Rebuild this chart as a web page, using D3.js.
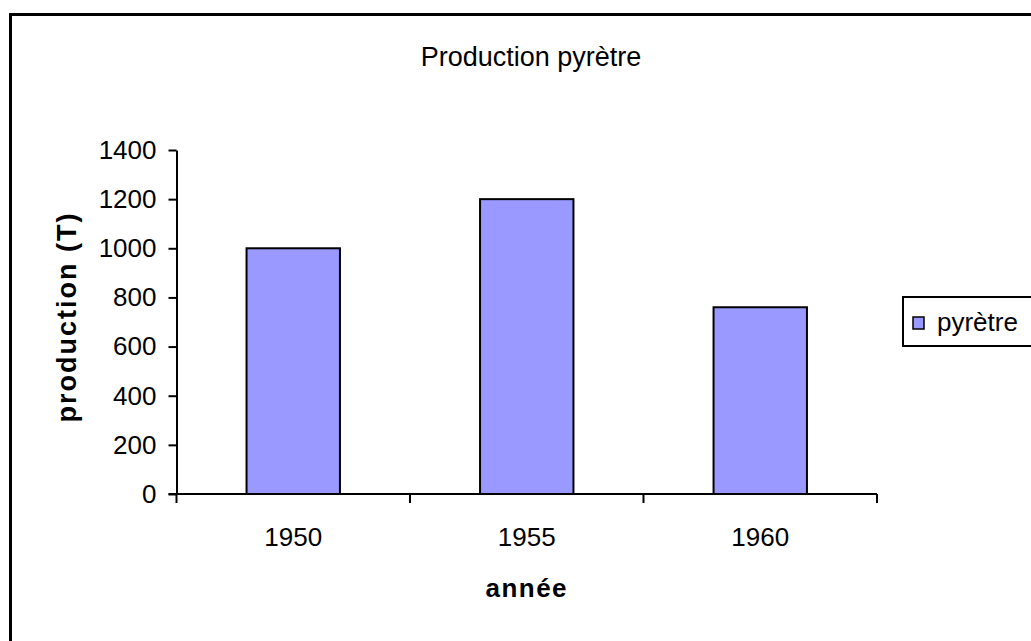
<!DOCTYPE html>
<html>
<head>
<meta charset="utf-8">
<script src="https://cdn.jsdelivr.net/npm/d3@7"></script>
<style>
  html, body { margin: 0; padding: 0; background: #fff; overflow: hidden; }
  text { font-family: "Liberation Sans", Arial, sans-serif; }
</style>
</head>
<body>
<script>
const categories = ["1950", "1955", "1960"];
const values = [1000, 1200, 760];
const seriesName = "pyrètre";
const yTicks = [0, 200, 400, 600, 800, 1000, 1200, 1400];
const title = "Production pyrètre";
const xTitle = "année";
const yTitle = "production (T)";

const W = 1031, H = 641;
const svg = d3.select("body").append("svg").attr("width", W).attr("height", H);

// outer chart border (extends past right/bottom edges)
svg.append("rect").attr("x", 10.5).attr("y", 14.5).attr("width", 1100).attr("height", 700)
  .attr("fill", "#fff").attr("stroke", "#000").attr("stroke-width", 3);

const plot = { left: 176.5, right: 877, top: 150, bottom: 494 };

const x = d3.scaleBand().domain(categories).range([plot.left, plot.right]).paddingInner(0.6).paddingOuter(0.3);
const xb = d3.scaleBand().domain(categories).range([plot.left, plot.right]);
const y = d3.scaleLinear().domain([0, 1400]).range([plot.bottom, plot.top]);

// bars
svg.append("g").selectAll("rect").data(values).join("rect")
  .attr("x", (d, i) => x(categories[i]))
  .attr("y", d => y(d))
  .attr("width", x.bandwidth())
  .attr("height", d => y(0) - y(d))
  .attr("fill", "#9999FF")
  .attr("stroke", "#000")
  .attr("stroke-width", 2);

// y axis
const yAxis = d3.axisLeft(y).tickValues(yTicks).tickFormat(d3.format("d"))
  .tickSize(8).tickPadding(12).tickSizeOuter(0);
const gy = svg.append("g").attr("transform", `translate(${plot.left},0)`).call(yAxis);
gy.select(".domain").attr("stroke-width", 2);
gy.selectAll(".tick line").attr("stroke-width", 2);
gy.selectAll(".tick text").attr("font-size", 26).attr("fill", "#000")
  .attr("font-family", "Liberation Sans, Arial, sans-serif");

// x axis: line + boundary ticks
const gx = svg.append("g").attr("transform", `translate(0,${plot.bottom})`);
gx.append("line").attr("x1", plot.left - 8).attr("x2", plot.right).attr("stroke", "#000").attr("stroke-width", 2);
const bounds = categories.map(c => xb(c)).concat([plot.right]);
gx.selectAll("line.b").data(bounds).join("line").attr("class", "b")
  .attr("x1", d => d).attr("x2", d => d).attr("y1", 0).attr("y2", 9)
  .attr("stroke", "#000").attr("stroke-width", 2);
gx.selectAll("text").data(categories).join("text")
  .attr("x", d => xb(d) + xb.bandwidth() / 2)
  .attr("y", 52)
  .attr("text-anchor", "middle")
  .attr("font-size", 26)
  .text(d => d);

// title
svg.append("text").attr("x", 531).attr("y", 66).attr("text-anchor", "middle")
  .attr("font-size", 27).text(title);

// axis titles
svg.append("text").attr("x", (plot.left + plot.right) / 2).attr("y", 597).attr("text-anchor", "middle")
  .attr("font-size", 26).attr("font-weight", "bold").attr("letter-spacing", 1.5).text(xTitle);
svg.append("text").attr("transform", `translate(76,${(plot.top + plot.bottom) / 2 - 5}) rotate(-90)`)
  .attr("text-anchor", "middle").attr("font-size", 27).attr("font-weight", "bold")
  .attr("letter-spacing", 2).text(yTitle);

// legend
const lg = svg.append("g");
lg.append("rect").attr("x", 903).attr("y", 297).attr("width", 200).attr("height", 49)
  .attr("fill", "#fff").attr("stroke", "#000").attr("stroke-width", 2);
lg.append("rect").attr("x", 913).attr("y", 317).attr("width", 11).attr("height", 12)
  .attr("fill", "#9999FF").attr("stroke", "#000").attr("stroke-width", 1.5);
lg.append("text").attr("x", 937).attr("y", 331).attr("font-size", 26).text(seriesName);
</script>
</body>
</html>
